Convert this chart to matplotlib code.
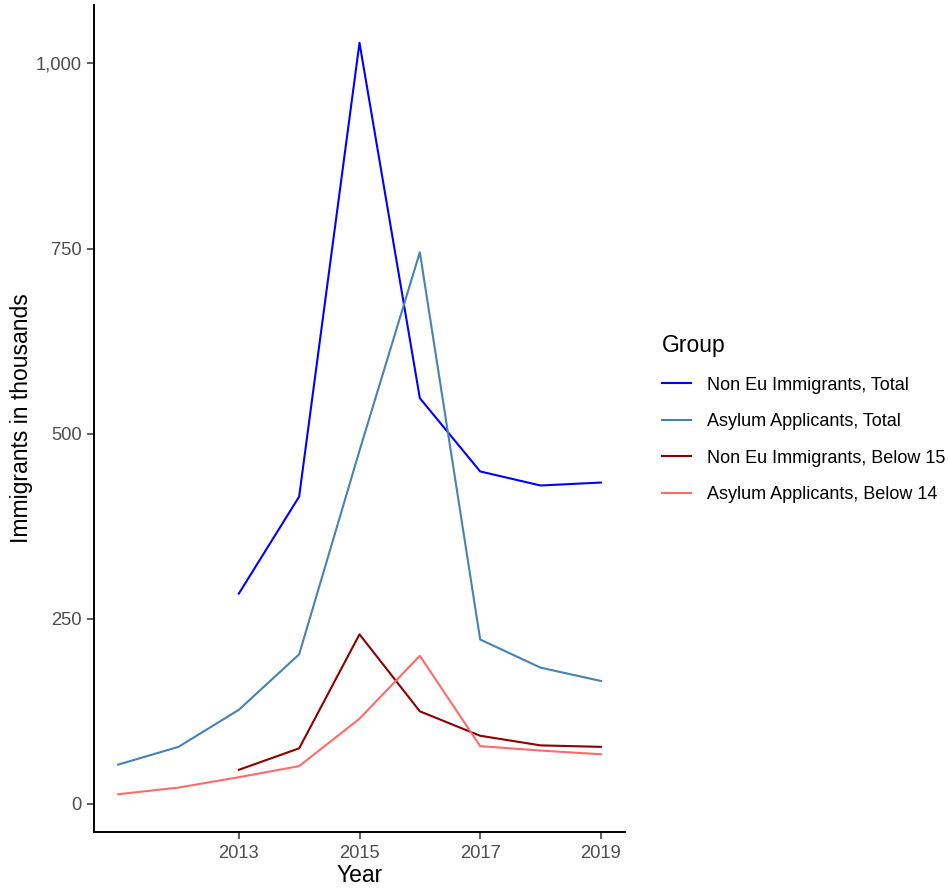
import matplotlib
matplotlib.use("Agg")
import matplotlib.pyplot as plt
from matplotlib.ticker import FuncFormatter

plt.rcParams['font.family'] = ['Liberation Sans', 'DejaVu Sans']

years_all = [2011, 2012, 2013, 2014, 2015, 2016, 2017, 2018, 2019]
years_noneu = [2013, 2014, 2015, 2016, 2017, 2018, 2019]

noneu_total = [284, 415, 1028, 548, 449, 430, 434]
asylum_total = [53, 77, 127, 202, 477, 745, 222, 184, 166]
noneu_below15 = [46, 75, 229, 125, 92, 79, 77]
asylum_below14 = [13, 22, 36, 51, 115, 200, 78, 72, 67]

series = [
    ("Non Eu Immigrants, Total", years_noneu, noneu_total, "#0000FF"),
    ("Asylum Applicants, Total", years_all, asylum_total, "#4682B4"),
    ("Non Eu Immigrants, Below 15", years_noneu, noneu_below15, "#8B0000"),
    ("Asylum Applicants, Below 14", years_all, asylum_below14, "#FF6A6A"),
]

x_ticks = [2013, 2015, 2017, 2019]
y_ticks = [0, 250, 500, 750, 1000]

fig = plt.figure(figsize=(9.49, 8.9), dpi=100)
ax = fig.add_axes([94/949, 58/890, (625-94)/949, (832-5)/890])

for name, xs, ys, c in series:
    ax.plot(xs, ys, color=c, lw=1.5, label=name)

ax.set_xlim(2010.6, 2019.4)
ax.set_ylim(-38, 1079)
ax.set_xticks(x_ticks)
ax.set_yticks(y_ticks)
ax.yaxis.set_major_formatter(FuncFormatter(lambda v, p: f"{int(v):,}"))

for s in ["top", "right"]:
    ax.spines[s].set_visible(False)
for s in ["left", "bottom"]:
    ax.spines[s].set_linewidth(1.4)
    ax.spines[s].set_color("black")

ax.tick_params(axis="both", length=5, width=1.1, color="#333333",
               labelsize=13.2, labelcolor="#4D4D4D", pad=4)

ax.set_xlabel("Year", fontsize=16.5, labelpad=2)
ax.set_ylabel("Immigrants in thousands", fontsize=16.5, labelpad=1.5)

leg = ax.legend(title="Group", loc="upper left", bbox_to_anchor=(655/949, 1 - 327/890),
                bbox_transform=fig.transFigure, frameon=False, fontsize=13.0,
                title_fontsize=16.5, handlelength=1.57, labelspacing=1.08,
                handletextpad=0.9, borderaxespad=0)
leg._legend_box.align = "left"

fig.savefig("out.png", dpi=100)
